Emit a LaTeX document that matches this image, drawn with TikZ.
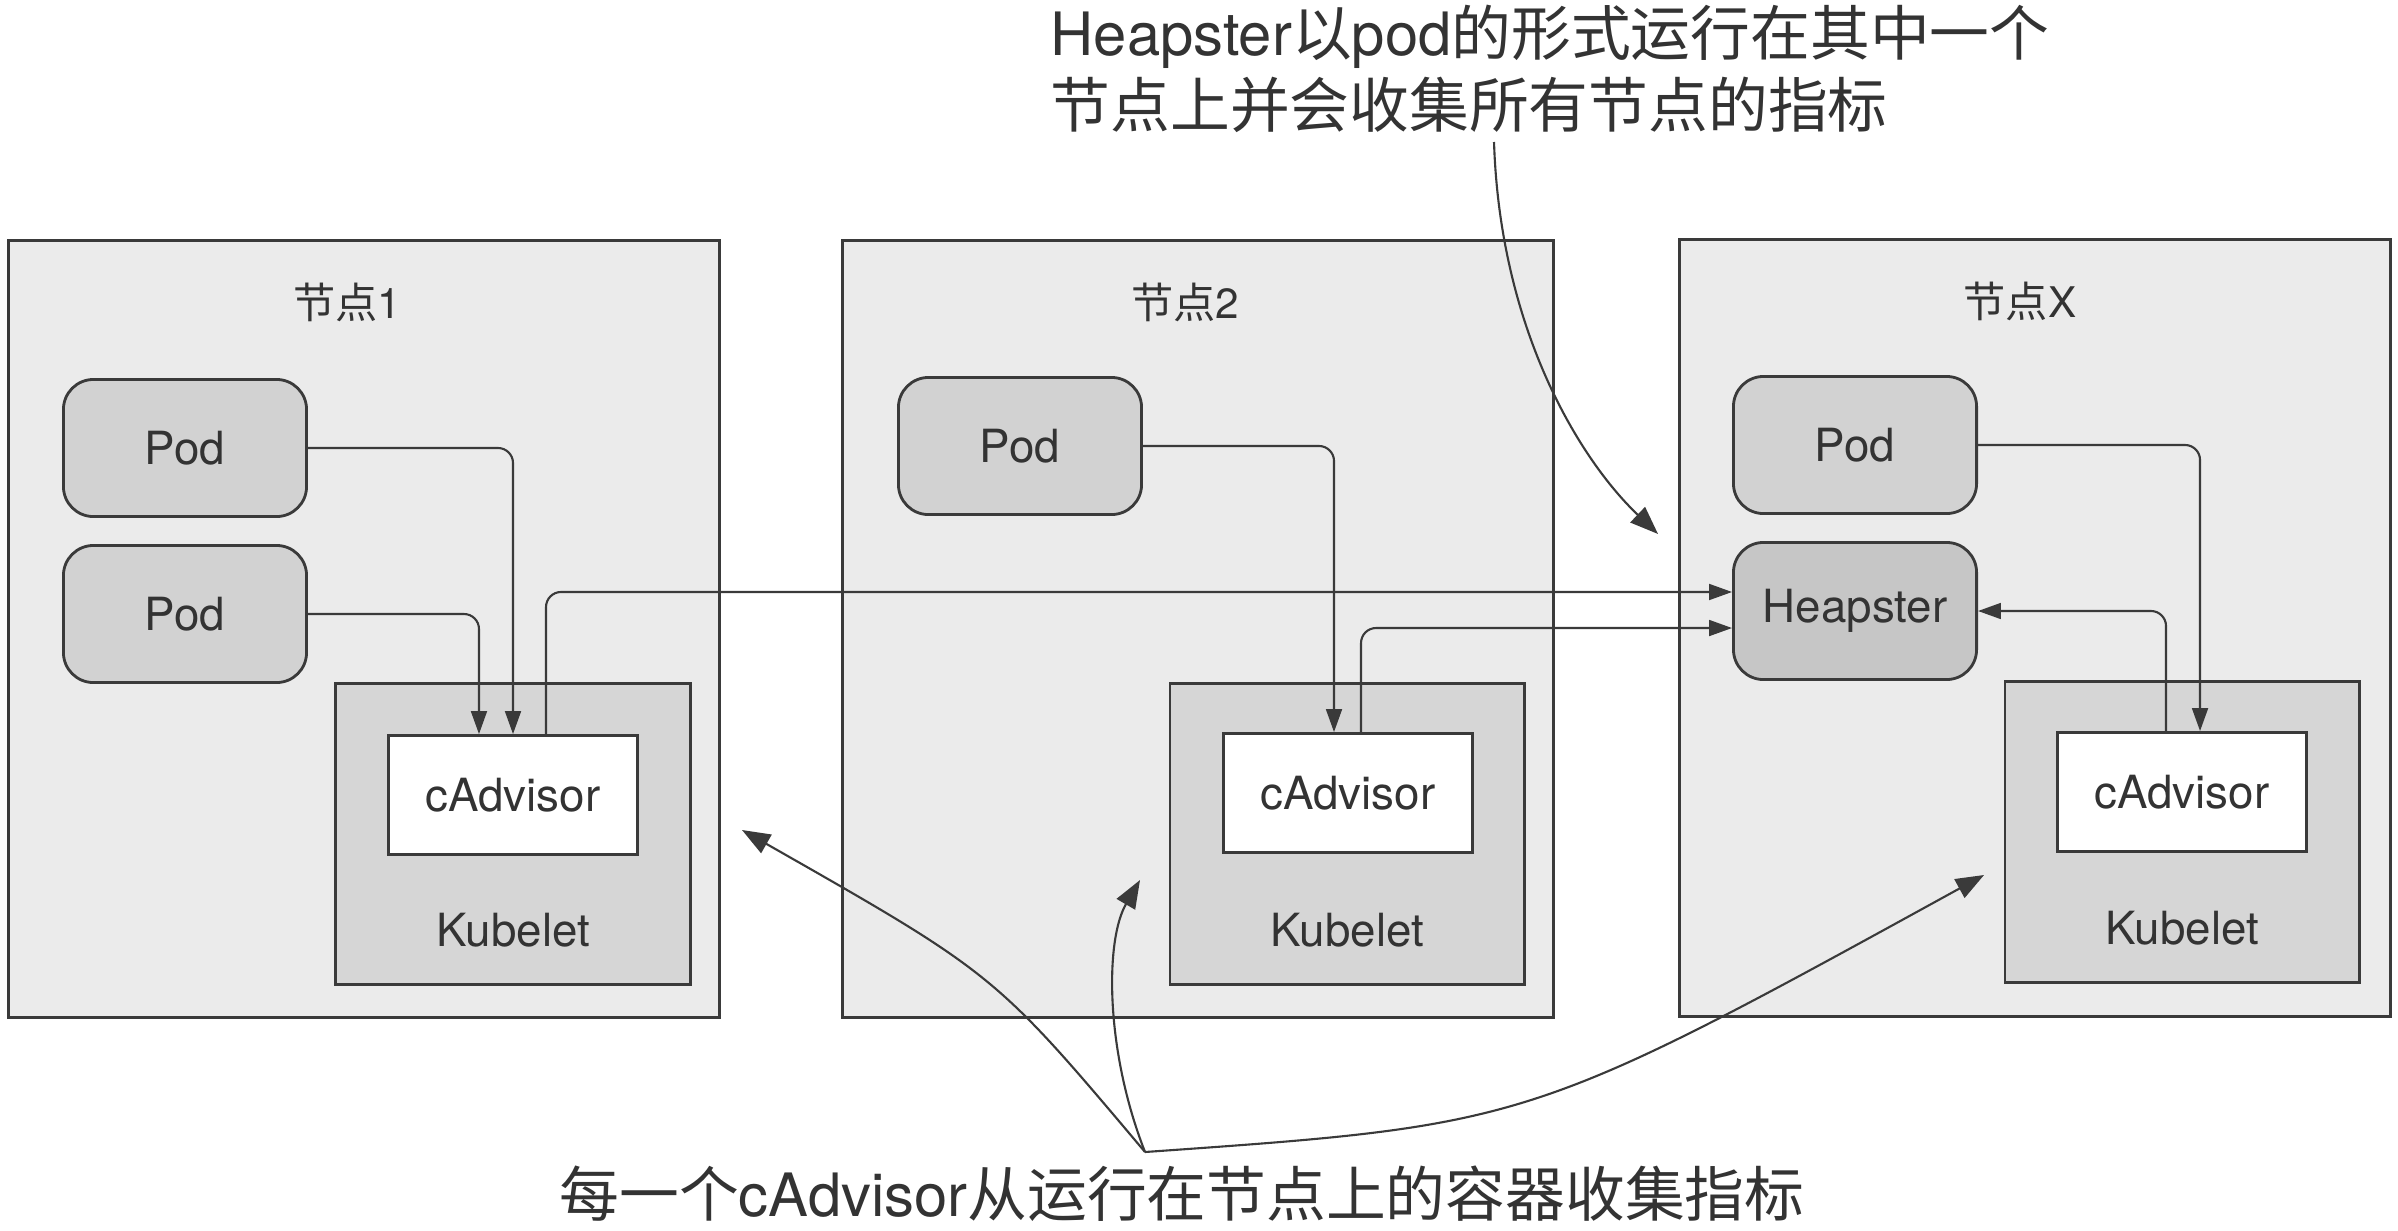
\documentclass[tikz,border=0pt]{standalone}
\usepackage{fontspec}
\setmainfont{TeX Gyre Heros}
\newfontfamily\cjk{Noto Sans CJK SC}
\usepackage{tikz}
\usetikzlibrary{positioning}
\usetikzlibrary{shapes,arrows.meta}
\definecolor{nodebg}{HTML}{EBEBEB}
\definecolor{podgray}{HTML}{D2D2D2}
\definecolor{heapgray}{HTML}{C6C6C6}
\definecolor{kubgray}{HTML}{D6D6D6}
\definecolor{linegray}{HTML}{3A3A3A}
\definecolor{textgray}{HTML}{333333}
\tikzset{%
  nodebox/.style  = {draw=linegray, line width=0.8pt, fill=nodebg, rectangle,
    minimum width=7.11cm, minimum height=7.76cm}, % Knoten
  pod/.style      = {draw=linegray, line width=0.8pt, fill=podgray, rectangle,
    rounded corners=0.3cm, minimum width=2.43cm, minimum height=1.37cm,
    text=textgray, font=\fontsize{13}{15}\selectfont}, % Pod
  heap/.style     = {pod, fill=heapgray}, % Heapster
  kubelet/.style  = {draw=linegray, line width=0.8pt, fill=kubgray, rectangle,
    minimum width=3.54cm, minimum height=3.01cm}, % Kubelet
  cadvisor/.style = {draw=linegray, line width=0.8pt, fill=white, rectangle,
    minimum width=2.49cm, minimum height=1.19cm,
    text=textgray, font=\fontsize{13}{15}\selectfont}, % cAdvisor
  lbl/.style      = {text=textgray, font=\fontsize{13}{15}\selectfont},
  title/.style    = {text=textgray, font=\fontsize{12}{14}\selectfont},
  note/.style     = {text=textgray, inner sep=0pt, font=\fontsize{17}{20.5}\selectfont},
  link/.style     = {draw=linegray, line width=0.6pt, rounded corners=0.15cm,
    -{Triangle[length=6.5pt,width=4.5pt]}},
  hint/.style     = {draw=linegray, line width=0.6pt,
    -{Triangle[length=8pt,width=6pt]}}
}

\begin{document}
\begin{tikzpicture}[x=0.01cm, y=-0.01cm]
  \useasboundingbox (0,0) rectangle (2398,1230);

  % nodes
  \draw node at (364,629) [nodebox] (n1) {};
  \draw node at (1198,629) [nodebox] (n2) {};
  \draw node at (2035,628) [nodebox] (n3) {};
  \draw node at ([xshift=-0.17cm,yshift=-0.63cm]n1.north) [title] (t1) {{\cjk 节点}1};
  \draw node at ([xshift=-0.13cm,yshift=-0.63cm]n2.north) [title] (t2) {{\cjk 节点}2};
  \draw node at ([xshift=-0.15cm,yshift=-0.63cm]n3.north) [title] (t3) {{\cjk 节点}X};

  % pods
  \draw node at (185,448) [pod] (pa1) {Pod};
  \draw node at (185,614) [pod] (pa2) {Pod};
  \draw node at (1020,446) [pod] (pb) {Pod};
  \draw node at (1855,445) [pod] (pc) {Pod};
  \draw node at (1855,611) [heap] (hp) {Heapster};

  % kubelet + cadvisor
  \draw node at (513,834) [kubelet] (k1) {};
  \draw node at (1347,834) [kubelet] (k2) {};
  \draw node at (2182,832) [kubelet] (k3) {};
  \draw node at ([yshift=0.56cm]k1.south) [lbl] (kl1) {Kubelet};
  \draw node at ([yshift=0.56cm]k2.south) [lbl] (kl2) {Kubelet};
  \draw node at ([yshift=0.56cm]k3.south) [lbl] (kl3) {Kubelet};
  \draw node at (513,795) [cadvisor] (ca1) {cAdvisor};
  \draw node at (1348,793) [cadvisor] (ca2) {cAdvisor};
  \draw node at (2182,792) [cadvisor] (ca3) {cAdvisor};

  \draw[link] (pa1) -| (ca1.north);
  \draw[link] (pa2) -| ([xshift=-0.34cm]ca1.north);
  \draw[link] (pb) -| ([xshift=-0.14cm]ca2.north);
  \draw[link] (pc) -| ([xshift=0.18cm]ca3.north);
  \draw[link] ([xshift=0.33cm]ca1.north) |- ([yshift=0.19cm]hp.west);
  \draw[link] ([xshift=0.13cm]ca2.north) |- ([yshift=-0.17cm]hp.west);
  \draw[link] ([xshift=-0.16cm]ca3.north) |- (hp.east);

  % notes
  \draw node at (1050,4) [note, anchor=north west, align=left] (top)
    {Heapster{\cjk 以}pod{\cjk 的形式运行在其中一个}\\{\cjk 节点上并会收集所有节点的指标}};
  \draw node at (1182,1194) [note] (bot)
    {{\cjk 每一个}cAdvisor{\cjk 从运行在节点上的容器收集指标}};

  \coordinate (topsrc) at (1494,142);
  \coordinate (toptip) at (1658,534);
  \coordinate (botsrc) at (1145,1152);
  \coordinate (tip1) at (742,830);
  \coordinate (tip2) at (1140,880);
  \coordinate (tip3) at (1984,875);

  \draw[hint] (topsrc) .. controls (1500,330) and (1580,460) .. (toptip);
  \draw[hint] (botsrc) .. controls (995,974) .. (tip1);
  \draw[hint] (botsrc) .. controls (1105,1050) and (1105,940) .. (tip2);
  \draw[hint] (botsrc) .. controls (1529,1125) .. (tip3);

\end{tikzpicture}
\end{document}
